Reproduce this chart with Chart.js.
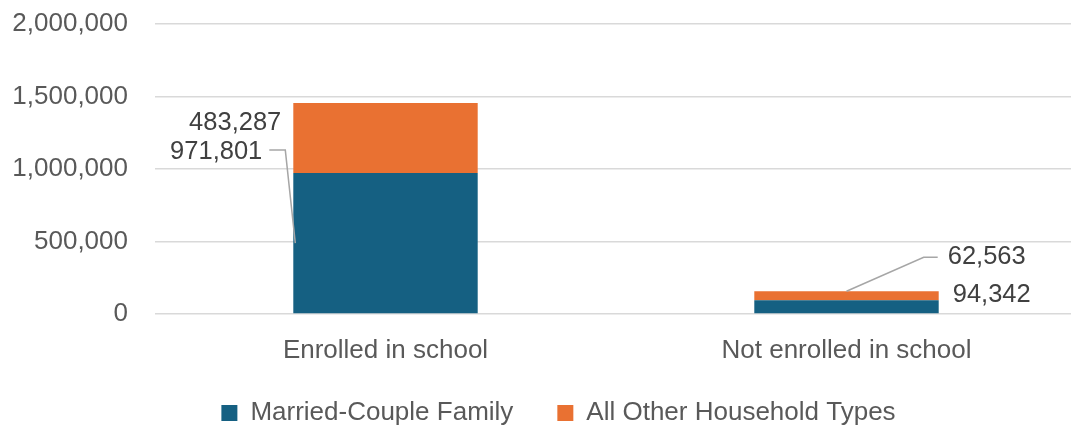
<!DOCTYPE html>
<html>
<head>
<meta charset="utf-8">
<script src="https://cdn.jsdelivr.net/npm/chart.js@4"></script>
<style>
  html, body { margin: 0; padding: 0; background: #fff; overflow: hidden; }
  #wrap { width: 1077px; height: 428px; }
</style>
</head>
<body>
<div id="wrap"><canvas id="grafico"></canvas></div>
<script>
const categorias = ['Enrolled in school', 'Not enrolled in school'];
const casados = [971801, 94342];
const outros = [483287, 62563];
const yTicks = [0, 500000, 1000000, 1500000, 2000000];

const AZUL = '#156082';
const LARANJA = '#E97132';
const FONTE = '"Liberation Sans", Arial, sans-serif';

// where each value label sits, relative to its bar (dataset, index)
const rotulos = [
  { ds: 1, i: 0, align: 'right', dx: -12, dy: 20 },
  { ds: 0, i: 0, align: 'right', dx: -31, dy: -21, leader: true },
  { ds: 1, i: 1, align: 'left', dx: 9, dy: -34, leader: true },
  { ds: 0, i: 1, align: 'left', dx: 14, dy: -5 }
];

const fmt = v => v.toLocaleString('en-US');

const rotulosPlugin = {
  id: 'rotulos',
  afterDatasetsDraw(chart) {
    const ctx = chart.ctx;
    ctx.save();
    ctx.font = '25.5px ' + FONTE;
    ctx.fillStyle = '#404040';
    ctx.textBaseline = 'middle';
    rotulos.forEach(r => {
      const el = chart.getDatasetMeta(r.ds).data[r.i];
      const left = el.x - el.width / 2;
      const right = el.x + el.width / 2;
      const valor = chart.data.datasets[r.ds].data[r.i];
      const ty = el.y + r.dy;
      const tx = r.align === 'right' ? left + r.dx : right + r.dx;
      ctx.textAlign = r.align;
      ctx.fillText(fmt(valor), tx, ty);

      if (r.leader) {
        ctx.strokeStyle = '#a6a6a6';
        ctx.lineWidth = 1.5;
        ctx.beginPath();
        if (r.align === 'right') {
          ctx.moveTo(tx + 7, ty - 2);
          ctx.lineTo(tx + 23, ty - 2);
          ctx.lineTo(left + 2, (el.y + el.base) / 2);
        } else {
          ctx.moveTo(tx - 10, ty);
          ctx.lineTo(tx - 24, ty);
          ctx.lineTo(el.x, el.y);
        }
        ctx.stroke();
      }
    });
    ctx.restore();
  }
};

// legend padding is used both between items and above/below; keep the height tight
const legendaPlugin = {
  id: 'legendaAltura',
  afterInit(chart) {
    const lg = chart.legend;
    const fit = lg.fit.bind(lg);
    lg.fit = function () {
      fit();
      this.height = 62;
    };
  },
  afterLayout(chart) {
    const lg = chart.legend;
    lg.left += 16;
    lg.right += 16;
    lg.top -= 10;
  }
};

new Chart(document.getElementById('grafico').getContext('2d'), {
  type: 'bar',
  data: {
    labels: categorias,
    datasets: [
      {
        label: 'Married-Couple Family',
        data: casados,
        backgroundColor: AZUL,
        barPercentage: 0.4,
        categoryPercentage: 1.0
      },
      {
        label: 'All Other Household Types',
        data: outros,
        backgroundColor: LARANJA,
        barPercentage: 0.4,
        categoryPercentage: 1.0
      }
    ]
  },
  options: {
    responsive: true,
    maintainAspectRatio: false,
    animation: false,
    layout: {
      padding: { left: 8, top: 0, right: 0, bottom: 0 }
    },
    scales: {
      x: {
        stacked: true,
        grid: { display: false, drawTicks: false },
        border: { display: false },
        afterFit: axis => { axis.height = 52; },
        ticks: {
          color: '#595959',
          font: { family: FONTE, size: 26 },
          padding: 21
        }
      },
      y: {
        stacked: true,
        min: 0,
        max: 2000000,
        afterBuildTicks: axis => { axis.ticks = yTicks.map(v => ({ value: v })); },
        afterFit: axis => {
          axis.width = 147;
          axis.paddingTop = 24;
          axis.paddingBottom = 0;
        },
        grid: { color: '#d9d9d9', lineWidth: 1.5, drawTicks: false },
        border: { display: false },
        ticks: {
          color: '#595959',
          font: { family: FONTE, size: 26 },
          padding: 27,
          callback: v => fmt(v)
        }
      }
    },
    plugins: {
      legend: {
        position: 'bottom',
        labels: {
          boxWidth: 16,
          boxHeight: 16,
          padding: 44,
          color: '#595959',
          font: { family: FONTE, size: 26 }
        }
      },
      tooltip: { enabled: false }
    }
  },
  plugins: [rotulosPlugin, legendaPlugin]
});
</script>
</body>
</html>
